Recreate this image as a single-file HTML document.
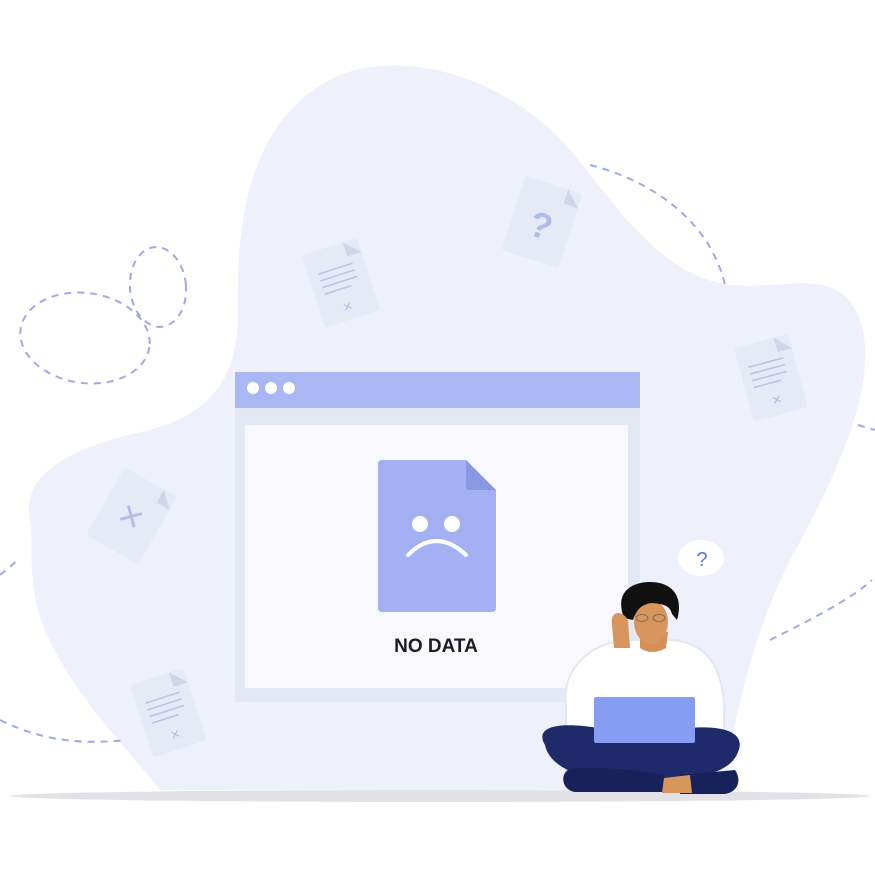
<!DOCTYPE html>
<html><head><style>html,body{margin:0;padding:0;background:#fff;width:875px;height:875px;overflow:hidden}</style></head>
<body>
<svg width="875" height="875" viewBox="0 0 875 875" xmlns="http://www.w3.org/2000/svg" font-family="Liberation Sans, sans-serif">
<path d="M30,520 C20,470 80,445 150,430 C220,410 240,370 238,300 C236,200 260,110 340,75 C420,45 520,90 570,150 C620,210 660,275 730,285 C790,290 840,265 860,320 C880,380 840,470 790,560 C760,620 735,700 725,790 L160,790 C120,740 70,690 45,630 C25,580 35,550 30,520 Z" fill="#eef1fc"/>
<g fill="none" stroke="#9eaae6" stroke-width="2" stroke-dasharray="7,6">
<ellipse cx="85" cy="338" rx="65" ry="45" transform="rotate(8 85 338)"/>
<ellipse cx="158" cy="287" rx="28" ry="40" transform="rotate(-5 158 287)"/>
<path d="M590,165 C650,180 710,220 725,285"/>
<path d="M858,425 L875,430"/>
<path d="M770,640 C810,620 850,600 872,580"/>
<path d="M0,720 C40,740 80,745 125,740"/>
<path d="M0,575 L18,560"/>
</g>
<g fill="#e6eaf6">
<g transform="rotate(-18 340 283)"><rect x="312" y="245" width="58" height="76" rx="3"/><path d="M355,245 l15,15 h-15z" fill="#cfd5ea"/><g stroke="#b9c2e6" stroke-width="1.5"><line x1="322" y1="268" x2="358" y2="268"/><line x1="322" y1="275" x2="358" y2="275"/><line x1="322" y1="282" x2="358" y2="282"/><line x1="322" y1="289" x2="350" y2="289"/></g><text x="340" y="313" font-size="16" fill="#b3bde8" text-anchor="middle">×</text></g>
<g transform="rotate(18 542 222)"><rect x="512" y="183" width="60" height="78" rx="3"/><path d="M557,183 l15,15 h-15z" fill="#cfd5ea"/><text x="542" y="238" font-size="36" font-weight="bold" fill="#b0bbec" text-anchor="middle">?</text></g>
<g transform="rotate(-15 770 378)"><rect x="743" y="340" width="56" height="76" rx="3"/><path d="M784,340 l15,15 h-15z" fill="#cfd5ea"/><g stroke="#b9c2e6" stroke-width="1.5"><line x1="752" y1="362" x2="788" y2="362"/><line x1="752" y1="369" x2="788" y2="369"/><line x1="752" y1="376" x2="788" y2="376"/><line x1="752" y1="383" x2="780" y2="383"/></g><text x="771" y="406" font-size="16" fill="#b3bde8" text-anchor="middle">×</text></g>
<g transform="rotate(30 132 515)"><rect x="102" y="477" width="60" height="78" rx="3"/><path d="M147,477 l15,15 h-15z" fill="#cfd5ea"/><text x="132" y="530" font-size="40" fill="#b3bde8" text-anchor="middle">×</text></g>
<g transform="rotate(-18 167 712)"><rect x="140" y="675" width="56" height="76" rx="3"/><path d="M181,675 l15,15 h-15z" fill="#cfd5ea"/><g stroke="#b9c2e6" stroke-width="1.5"><line x1="149" y1="697" x2="185" y2="697"/><line x1="149" y1="704" x2="185" y2="704"/><line x1="149" y1="711" x2="185" y2="711"/><line x1="149" y1="718" x2="177" y2="718"/></g><text x="168" y="741" font-size="16" fill="#b3bde8" text-anchor="middle">×</text></g>
</g>
<rect x="235" y="372" width="405" height="330" fill="#e4e8f5"/>
<rect x="235" y="372" width="405" height="36" fill="#a9b7f4"/>
<circle cx="253" cy="388" r="6" fill="#fff"/><circle cx="271" cy="388" r="6" fill="#fff"/><circle cx="289" cy="388" r="6" fill="#fff"/>
<rect x="245" y="425" width="383" height="263" fill="#f9f9fd"/>
<path d="M382,460 H466 L496,490 V608 Q496,612 492,612 H382 Q378,612 378,608 V464 Q378,460 382,460Z" fill="#a3b1f4"/>
<path d="M466,460 L496,490 H470 Q466,490 466,486Z" fill="#8898e3"/>
<circle cx="420" cy="524" r="8" fill="#fff"/><circle cx="452" cy="524" r="8" fill="#fff"/>
<path d="M408,555 Q436,527 466,555" fill="none" stroke="#fff" stroke-width="4" stroke-linecap="round"/>
<text x="436" y="652" font-size="19" font-weight="bold" fill="#1b1b2a" text-anchor="middle">NO DATA</text>
<ellipse cx="440" cy="796" rx="430" ry="6" fill="#e2e2e6"/>
<ellipse cx="701" cy="558" rx="23" ry="18" fill="#fff"/>
<text x="702" y="566" font-size="20" fill="#5b77e6" text-anchor="middle">?</text>
<path d="M566,705 C562,672 585,645 625,640 L675,640 C708,645 722,668 724,705 L724,740 L566,740Z" fill="#fff" stroke="#e6e6ee" stroke-width="2"/>
<path d="M640,632 L668,632 L666,648 Q652,656 640,648Z" fill="#d39059"/>
<ellipse cx="651" cy="622" rx="17" ry="22" fill="#d8965f"/>
<path d="M624,618 C614,592 632,582 650,582 C672,582 684,596 677,620 L672,614 C670,605 662,604 652,603 C643,604 637,608 633,620 Z" fill="#111"/>
<path d="M612,625 C610,610 622,610 628,620 L630,648 L614,648Z" fill="#d8965f"/>
<g fill="none" stroke="#8a6a50" stroke-width="1"><ellipse cx="642" cy="618" rx="6" ry="3.5"/><ellipse cx="659" cy="618" rx="6" ry="3.5"/></g>
<path d="M545,745 C530,720 580,720 640,738 C700,720 750,725 738,752 C730,775 690,780 660,778 L620,778 C590,782 550,770 545,745Z" fill="#1e2a6a"/>
<path d="M568,770 C580,765 640,770 665,775 L665,792 L575,792 C562,790 560,775 568,770Z" fill="#17215a"/>
<path d="M680,775 L735,770 C742,780 738,792 725,794 L680,794Z" fill="#17215a"/>
<path d="M664,778 L690,775 L692,793 L662,793Z" fill="#d8965f"/>
<rect x="594" y="697" width="101" height="46" rx="2" fill="#879df3"/>
</svg>
</body></html>
